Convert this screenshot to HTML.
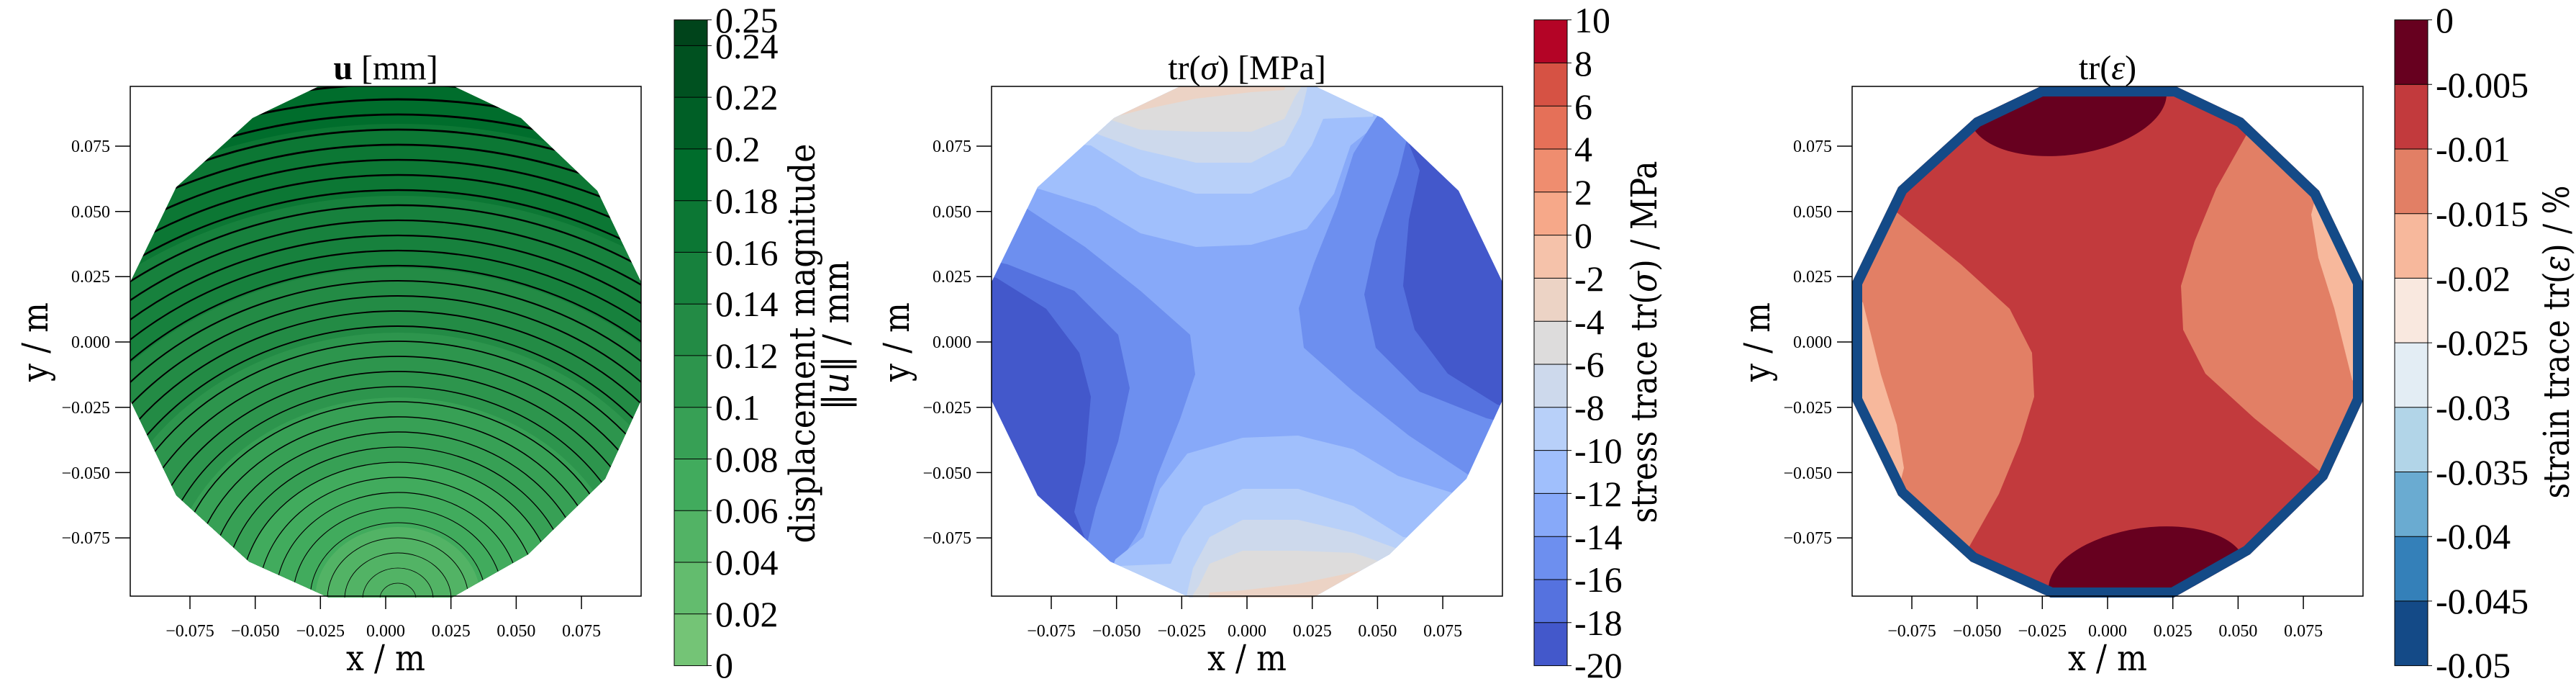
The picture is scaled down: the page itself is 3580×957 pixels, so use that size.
<!DOCTYPE html>
<html><head><meta charset="utf-8"><style>
html,body{margin:0;padding:0;background:#fff;overflow:hidden;width:3580px;height:957px;}
svg{display:block;overflow:hidden;}
.tk{font-family:"Liberation Serif",serif;font-size:24px;fill:#000;}
.cb{font-family:"Liberation Serif",serif;font-size:50px;fill:#000;}
.lb{font-family:"DejaVu Serif","Liberation Serif",serif;font-size:50px;fill:#000;}
.ti{font-family:"Liberation Serif",serif;font-size:48px;fill:#000;}
</style></head><body>
<svg width="3580" height="957" viewBox="0 0 3580 957" xmlns="http://www.w3.org/2000/svg">
<defs>
<clipPath id="poly"><polygon points="262,0 450,0 543,44 649,145 710,272 710,436 660,545 553,650 447,710 276,710 165,660 64,568 0,436 0,272 64,140 170,44"/></clipPath>
<g id="yt">
<line x1="-21" y1="83" x2="0" y2="83" stroke="#000" stroke-width="1.5"/>
<line x1="-21" y1="173.7" x2="0" y2="173.7" stroke="#000" stroke-width="1.5"/>
<line x1="-21" y1="264.3" x2="0" y2="264.3" stroke="#000" stroke-width="1.5"/>
<line x1="-21" y1="355" x2="0" y2="355" stroke="#000" stroke-width="1.5"/>
<line x1="-21" y1="445.7" x2="0" y2="445.7" stroke="#000" stroke-width="1.5"/>
<line x1="-21" y1="536.4" x2="0" y2="536.4" stroke="#000" stroke-width="1.5"/>
<line x1="-21" y1="627.1" x2="0" y2="627.1" stroke="#000" stroke-width="1.5"/>
<g class="tk" text-anchor="end">
<text x="-28" y="91">0.075</text><text x="-28" y="182">0.050</text><text x="-28" y="272">0.025</text><text x="-28" y="363">0.000</text><text x="-28" y="454">−0.025</text><text x="-28" y="545">−0.050</text><text x="-28" y="635">−0.075</text>
</g>
<line x1="83" y1="708" x2="83" y2="726" stroke="#000" stroke-width="1.5"/>
<line x1="173.7" y1="708" x2="173.7" y2="726" stroke="#000" stroke-width="1.5"/>
<line x1="264.3" y1="708" x2="264.3" y2="726" stroke="#000" stroke-width="1.5"/>
<line x1="355" y1="708" x2="355" y2="726" stroke="#000" stroke-width="1.5"/>
<line x1="445.7" y1="708" x2="445.7" y2="726" stroke="#000" stroke-width="1.5"/>
<line x1="536.4" y1="708" x2="536.4" y2="726" stroke="#000" stroke-width="1.5"/>
<line x1="627.1" y1="708" x2="627.1" y2="726" stroke="#000" stroke-width="1.5"/>
<g class="tk" text-anchor="middle">
<text x="83" y="764">−0.075</text><text x="173.7" y="764">−0.050</text><text x="264.3" y="764">−0.025</text><text x="355" y="764">0.000</text><text x="445.7" y="764">0.025</text><text x="536.4" y="764">0.050</text><text x="627.1" y="764">0.075</text>
</g>
<text class="lb" x="355" y="811" text-anchor="middle" textLength="110" lengthAdjust="spacingAndGlyphs">x / m</text>
<text class="lb" transform="translate(-132,355) rotate(-90)" x="0" y="17" text-anchor="middle" textLength="110" lengthAdjust="spacingAndGlyphs">y / m</text>
<rect x="0" y="0" width="710" height="708" fill="none" stroke="#000" stroke-width="1.5"/>
</g>
<g id="lobes2">
<polygon fill="#a0bffc" points="-10,130 68,143 145,167 207,204 284,223 361,220 438,198 476,149 499,82 538,51 560,-10 -10,-10"/>
<polygon fill="#b8d0f9" points="-10,70 138,82 207,125 284,149 361,149 415,125 445,82 461,45 530,42 540,-10 -10,-10"/>
<polygon fill="#cdd9ec" points="120,55 138,63 207,88 284,106 361,106 407,82 430,39 438,5 440,-10 100,-10"/>
<polygon fill="#dddcdc" points="150,40 161,45 207,60 284,63 361,63 407,45 422,14 430,2 430,-10 140,-10"/>
<polygon fill="#ecd3c5" points="160,46 172,42 207,33 284,17 361,8 407,5 410,-10 150,-10"/>
<polygon fill="#6d8fef" points="-10,140 45,167 130,223 207,284 276,345 283,400 262,462 230,542 207,615 176,664 130,720 -10,720"/>
<polygon fill="#5572df" points="-10,240 22,247 115,284 176,345 192,419 176,493 145,585 130,646 120,720 -10,720"/>
<polygon fill="#4358cb" points="-10,262 7,266 76,309 122,370 138,431 130,523 115,591 130,628 130,720 -10,720"/>
</g>
<g id="lobes3">
<polygon fill="#e27f65" points="-10,150 61,174 151,247 219,309 250,370 253,431 234,493 204,566 159,646 120,700 -10,700"/>
<polygon fill="#f7b89c" points="-5,290 15,300 40,400 62,470 72,530 62,570 -5,570"/>
<ellipse cx="300" cy="25" rx="138" ry="70" transform="rotate(-8 300 25)" fill="#67001f"/>
</g>
</defs>

<!-- Panel 1 -->
<g transform="translate(181,120)">
<g clip-path="url(#poly)">
<rect width="710" height="710" fill="#005f26"/>
<g transform="translate(372,712)">
<ellipse rx="897" ry="780" fill="#006d2c"/>
<ellipse rx="759" ry="660" fill="#0c7734"/>
<ellipse rx="644" ry="560" fill="#17813d"/>
<ellipse rx="529" ry="460" fill="#238b45"/>
<ellipse rx="425" ry="370" fill="#2d954d"/>
<ellipse rx="322" ry="280" fill="#37a055"/>
<ellipse rx="218" ry="190" fill="#41ab5d"/>
<ellipse rx="115" ry="100" fill="#52b365"/>
<g fill="none" stroke="#000">
<ellipse rx="25" ry="22" stroke-width="0.7"/>
<ellipse rx="49" ry="43" stroke-width="0.8"/>
<ellipse rx="74" ry="64" stroke-width="0.9"/>
<ellipse rx="98" ry="85" stroke-width="0.95"/>
<ellipse rx="122" ry="106" stroke-width="1.0"/>
<ellipse rx="146" ry="127" stroke-width="1.1"/>
<ellipse rx="170" ry="148" stroke-width="1.15"/>
<ellipse rx="194" ry="169" stroke-width="1.2"/>
<ellipse rx="219" ry="190" stroke-width="1.3"/>
<ellipse rx="243" ry="211" stroke-width="1.35"/>
<ellipse rx="267" ry="232" stroke-width="1.4"/>
<ellipse rx="291" ry="253" stroke-width="1.5"/>
<ellipse rx="315" ry="274" stroke-width="1.55"/>
<ellipse rx="339" ry="295" stroke-width="1.6"/>
<ellipse rx="363" ry="316" stroke-width="1.7"/>
<ellipse rx="388" ry="337" stroke-width="1.75"/>
<ellipse rx="412" ry="358" stroke-width="1.8"/>
<ellipse rx="436" ry="379" stroke-width="1.9"/>
<ellipse rx="460" ry="400" stroke-width="1.95"/>
<ellipse rx="484" ry="421" stroke-width="2.0"/>
<ellipse rx="508" ry="442" stroke-width="2.1"/>
<ellipse rx="532" ry="463" stroke-width="2.15"/>
<ellipse rx="557" ry="484" stroke-width="2.2"/>
<ellipse rx="581" ry="505" stroke-width="2.3"/>
<ellipse rx="605" ry="526" stroke-width="2.35"/>
<ellipse rx="629" ry="547" stroke-width="2.4"/>
<ellipse rx="653" ry="568" stroke-width="2.5"/>
<ellipse rx="677" ry="589" stroke-width="2.55"/>
<ellipse rx="702" ry="610" stroke-width="2.6"/>
<ellipse rx="726" ry="631" stroke-width="2.7"/>
<ellipse rx="750" ry="652" stroke-width="2.75"/>
<ellipse rx="774" ry="673" stroke-width="2.8"/>
<ellipse rx="798" ry="694" stroke-width="2.9"/>
<ellipse rx="822" ry="715" stroke-width="2.95"/>
</g>
</g>
</g>
<use href="#yt"/>
<text class="ti" x="355" y="-10" text-anchor="middle"><tspan font-weight="bold">u</tspan> [mm]</text>
</g>
<!-- Colorbar 1 -->
<g>
<rect x="937" y="852.7" width="46" height="71.8" fill="#74c476"/>
<rect x="937" y="781.0" width="46" height="71.8" fill="#63bc6e"/>
<rect x="937" y="709.2" width="46" height="71.8" fill="#52b365"/>
<rect x="937" y="637.5" width="46" height="71.8" fill="#41ab5d"/>
<rect x="937" y="565.7" width="46" height="71.8" fill="#37a055"/>
<rect x="937" y="493.9" width="46" height="71.8" fill="#2d954d"/>
<rect x="937" y="422.2" width="46" height="71.8" fill="#238b45"/>
<rect x="937" y="350.4" width="46" height="71.8" fill="#17813d"/>
<rect x="937" y="278.7" width="46" height="71.8" fill="#0c7734"/>
<rect x="937" y="206.9" width="46" height="71.8" fill="#006d2c"/>
<rect x="937" y="135.1" width="46" height="71.8" fill="#005f26"/>
<rect x="937" y="63.4" width="46" height="71.8" fill="#005120"/>
<rect x="937" y="27.6" width="46" height="35.8" fill="#00441b"/>
<g stroke="#000" stroke-width="1"><line x1="937" y1="852.7" x2="989" y2="852.7"/><line x1="937" y1="781" x2="989" y2="781"/><line x1="937" y1="709.2" x2="989" y2="709.2"/><line x1="937" y1="637.5" x2="989" y2="637.5"/><line x1="937" y1="565.7" x2="989" y2="565.7"/><line x1="937" y1="493.9" x2="989" y2="493.9"/><line x1="937" y1="422.2" x2="989" y2="422.2"/><line x1="937" y1="350.4" x2="989" y2="350.4"/><line x1="937" y1="278.7" x2="989" y2="278.7"/><line x1="937" y1="206.9" x2="989" y2="206.9"/><line x1="937" y1="135.1" x2="989" y2="135.1"/><line x1="937" y1="63.4" x2="989" y2="63.4"/><line x1="983" y1="27.6" x2="989" y2="27.6"/><line x1="983" y1="924.5" x2="989" y2="924.5"/></g>
<rect x="937" y="27.6" width="46" height="897" fill="none" stroke="#000" stroke-width="1"/>
<g class="cb">
<text x="994" y="941">0</text><text x="994" y="870">0.02</text><text x="994" y="798">0.04</text><text x="994" y="726">0.06</text><text x="994" y="655">0.08</text><text x="994" y="583">0.1</text><text x="994" y="511">0.12</text><text x="994" y="439">0.14</text><text x="994" y="368">0.16</text><text x="994" y="296">0.18</text><text x="994" y="224">0.2</text><text x="994" y="152">0.22</text><text x="994" y="81">0.24</text><text x="994" y="45">0.25</text>
</g>
<text class="lb" transform="translate(1115,477) rotate(-90)" x="0" y="17" text-anchor="middle" textLength="555" lengthAdjust="spacingAndGlyphs">displacement magnitude</text>
<text class="lb" transform="translate(1162,466) rotate(-90)" x="0" y="17" text-anchor="middle" textLength="208" lengthAdjust="spacingAndGlyphs">‖<tspan font-style="italic">u</tspan>‖ / mm</text>
</g>

<!-- Panel 2 -->
<g transform="translate(1378,120)">
<g clip-path="url(#poly)">
<rect width="710" height="710" fill="#87a9f9"/>
<use href="#lobes2"/>
<use href="#lobes2" transform="rotate(180 355 354)"/>
</g>
<use href="#yt"/>
<text class="ti" x="355" y="-10" text-anchor="middle">tr(<tspan font-style="italic">σ</tspan>) [MPa]</text>
</g>
<g>
<rect x="2132" y="27.6" width="46" height="59.8" fill="#b40426"/>
<rect x="2132" y="87.4" width="46" height="59.8" fill="#d65244"/>
<rect x="2132" y="147.2" width="46" height="59.8" fill="#e57058"/>
<rect x="2132" y="207.0" width="46" height="59.8" fill="#ef8d6f"/>
<rect x="2132" y="266.8" width="46" height="59.8" fill="#f6a889"/>
<rect x="2132" y="326.6" width="46" height="59.8" fill="#f5c2aa"/>
<rect x="2132" y="386.4" width="46" height="59.8" fill="#ecd3c5"/>
<rect x="2132" y="446.2" width="46" height="59.8" fill="#dddcdc"/>
<rect x="2132" y="506.0" width="46" height="59.8" fill="#cdd9ec"/>
<rect x="2132" y="565.8" width="46" height="59.8" fill="#b8d0f9"/>
<rect x="2132" y="625.6" width="46" height="59.8" fill="#a0bffc"/>
<rect x="2132" y="685.4" width="46" height="59.8" fill="#87a9f9"/>
<rect x="2132" y="745.2" width="46" height="59.8" fill="#6d8fef"/>
<rect x="2132" y="805.0" width="46" height="59.8" fill="#5572df"/>
<rect x="2132" y="864.8" width="46" height="59.8" fill="#4358cb"/>
<g stroke="#000" stroke-width="1"><line x1="2132" y1="87.4" x2="2184" y2="87.4"/><line x1="2132" y1="147.2" x2="2184" y2="147.2"/><line x1="2132" y1="207" x2="2184" y2="207"/><line x1="2132" y1="266.8" x2="2184" y2="266.8"/><line x1="2132" y1="326.6" x2="2184" y2="326.6"/><line x1="2132" y1="386.4" x2="2184" y2="386.4"/><line x1="2132" y1="446.2" x2="2184" y2="446.2"/><line x1="2132" y1="506" x2="2184" y2="506"/><line x1="2132" y1="565.8" x2="2184" y2="565.8"/><line x1="2132" y1="625.6" x2="2184" y2="625.6"/><line x1="2132" y1="685.4" x2="2184" y2="685.4"/><line x1="2132" y1="745.2" x2="2184" y2="745.2"/><line x1="2132" y1="805" x2="2184" y2="805"/><line x1="2132" y1="864.8" x2="2184" y2="864.8"/><line x1="2178" y1="27.6" x2="2184" y2="27.6"/><line x1="2178" y1="924.6" x2="2184" y2="924.6"/></g>
<rect x="2132" y="27.6" width="46" height="897" fill="none" stroke="#000" stroke-width="1"/>
<g class="cb">
<text x="2188" y="45">10</text><text x="2188" y="105">8</text><text x="2188" y="165">6</text><text x="2188" y="224">4</text><text x="2188" y="284">2</text><text x="2188" y="344">0</text><text x="2188" y="404">-2</text><text x="2188" y="464">-4</text><text x="2188" y="523">-6</text><text x="2188" y="583">-8</text><text x="2188" y="643">-10</text><text x="2188" y="703">-12</text><text x="2188" y="763">-14</text><text x="2188" y="822">-16</text><text x="2188" y="882">-18</text><text x="2188" y="941">-20</text>
</g>
<text class="lb" transform="translate(2285,475) rotate(-90)" x="0" y="17" text-anchor="middle" textLength="503" lengthAdjust="spacingAndGlyphs">stress trace tr(<tspan font-style="italic">σ</tspan>) / MPa</text>
</g>

<!-- Panel 3 -->
<g transform="translate(2574,120)">
<g clip-path="url(#poly)">
<rect width="710" height="710" fill="#c23a3d"/>
<use href="#lobes3"/>
<use href="#lobes3" transform="rotate(180 355 354)"/>
<polygon points="262,0 450,0 543,44 649,145 710,272 710,436 660,545 553,650 447,710 276,710 165,660 64,568 0,436 0,272 64,140 170,44" fill="none" stroke="#144a87" stroke-width="28" stroke-linejoin="round"/>
</g>
<use href="#yt"/>
<text class="ti" x="355" y="-10" text-anchor="middle">tr(<tspan font-style="italic">ε</tspan>)</text>
</g>
<g>
<rect x="3328" y="27.6" width="46" height="89.7" fill="#67001f"/>
<rect x="3328" y="117.3" width="46" height="89.7" fill="#c23a3d"/>
<rect x="3328" y="207.0" width="46" height="89.7" fill="#e27f65"/>
<rect x="3328" y="296.7" width="46" height="89.7" fill="#f7b89c"/>
<rect x="3328" y="386.4" width="46" height="89.7" fill="#f9e8df"/>
<rect x="3328" y="476.1" width="46" height="89.7" fill="#e3edf4"/>
<rect x="3328" y="565.8" width="46" height="89.7" fill="#b2d5e8"/>
<rect x="3328" y="655.5" width="46" height="89.7" fill="#6aabd1"/>
<rect x="3328" y="745.2" width="46" height="89.7" fill="#3480b9"/>
<rect x="3328" y="834.9" width="46" height="89.7" fill="#144a87"/>
<g stroke="#000" stroke-width="1"><line x1="3328" y1="117.3" x2="3380" y2="117.3"/><line x1="3328" y1="207" x2="3380" y2="207"/><line x1="3328" y1="296.7" x2="3380" y2="296.7"/><line x1="3328" y1="386.4" x2="3380" y2="386.4"/><line x1="3328" y1="476.1" x2="3380" y2="476.1"/><line x1="3328" y1="565.8" x2="3380" y2="565.8"/><line x1="3328" y1="655.5" x2="3380" y2="655.5"/><line x1="3328" y1="745.2" x2="3380" y2="745.2"/><line x1="3328" y1="834.9" x2="3380" y2="834.9"/><line x1="3374" y1="27.6" x2="3380" y2="27.6"/><line x1="3374" y1="924.6" x2="3380" y2="924.6"/></g>
<rect x="3328" y="27.6" width="46" height="897" fill="none" stroke="#000" stroke-width="1"/>
<g class="cb">
<text x="3385" y="45">0</text><text x="3385" y="135">-0.005</text><text x="3385" y="224">-0.01</text><text x="3385" y="314">-0.015</text><text x="3385" y="404">-0.02</text><text x="3385" y="493">-0.025</text><text x="3385" y="583">-0.03</text><text x="3385" y="673">-0.035</text><text x="3385" y="762">-0.04</text><text x="3385" y="852">-0.045</text><text x="3385" y="941">-0.05</text>
</g>
<text class="lb" transform="translate(3553,475) rotate(-90)" x="0" y="17" text-anchor="middle" textLength="435" lengthAdjust="spacingAndGlyphs">strain trace tr(<tspan font-style="italic">ε</tspan>) / %</text>
</g>
</svg>
</body></html>
